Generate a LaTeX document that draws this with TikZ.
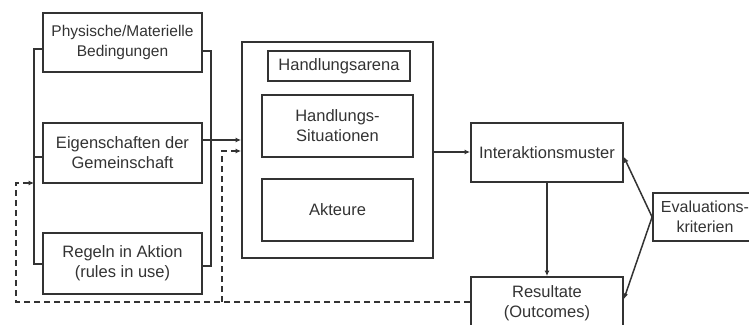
\documentclass[tikz,border=0pt]{standalone}
\usepackage{fontspec}
\setmainfont{Liberation Sans}
\usetikzlibrary{arrows.meta,calc}
\begin{document}
\begin{tikzpicture}[x=1pt,y=-1pt,
  box/.style={draw=black!80, line width=1.8pt, rectangle, inner sep=0pt, align=center,
    text=black!80, font=\fontsize{16.5}{20}\selectfont},
  conn/.style={draw=black!80, line width=1.5pt},
  arr/.style={conn, -{Latex[length=5.5pt,width=5pt]}},
  feedback/.style={draw=black!80, line width=1.9pt, dash pattern=on 6pt off 4pt,
    -{Latex[length=5.5pt,width=5pt]}}]
\useasboundingbox (0,0) rectangle (749,324);
\clip (0,0) rectangle (749,324);

% exogenous variables
\node[box, minimum width=159, minimum height=59, font=\fontsize{15.5}{20}\selectfont]
  (phys) at (122.5,42.5) {Physische/Materielle\\Bedingungen};
\node[box, minimum width=159, minimum height=60] (gem) at (122.5,153) {Eigenschaften der\\Gemeinschaft};
\node[box, minimum width=159, minimum height=61] (regeln) at (122.5,263.5) {Regeln in Aktion\\(rules in use)};

% action arena
\node[box, minimum width=191, minimum height=216] (arena) at (337.5,150) {};
\node[box, minimum width=142, minimum height=30] (harena) at (339,66) {Handlungsarena};
\node[box, minimum width=151, minimum height=62] (sit) at (337.5,126) {Handlungs-\\Situationen};
\node[box, minimum width=151, minimum height=62] (akt) at (337.5,210) {Akteure};

% outcomes
\node[box, minimum width=152, minimum height=59] (inter) at (547,152.5) {Interaktionsmuster};
\node[box, minimum width=152, minimum height=52] (res) at (547,303) {Resultate\\(Outcomes)};
\node[box, minimum width=104, minimum height=48, font=\fontsize{16}{20}\selectfont]
  (eval) at (705,217) {Evaluations-\\kriterien};

% bracket collecting the exogenous variables (left)
\draw[conn] ([yshift=-6.5]phys.west) -- ++(-8,0) coordinate (lb)
  |- ([yshift=-0.5]regeln.west);
\coordinate (gs) at ([yshift=-4]gem.west);
\draw[conn] (gs) -- (gs -| lb);
% bracket (right)
\draw[conn] ([yshift=-8.5]phys.east) -- ++(8,0) coordinate (rb)
  |- ([yshift=-2.5]regeln.east);
\coordinate (ge) at ([yshift=13]gem.east);
\draw[arr] (ge) -- (ge -| arena.west);

% main flow
\coordinate (ae) at ([yshift=-2]arena.east);
\draw[arr] (ae) -- (ae -| inter.west);
\draw[arr] (inter.south) -- (res.north);
\draw[arr] (eval.west) -- ([yshift=-4.5]inter.east);
\draw[arr] (eval.west) -- ([yshift=4]res.east);

% feedback of outcomes
\coordinate (fb) at (222,302);
\coordinate (fl) at (16,302);
\coordinate (fh) at (0,183);
\draw[feedback] ([yshift=1]res.west) -- (fb) -- (fl) |- (lb |- fh);
\draw[feedback] (fb) |- ([yshift=-1]arena.west);
\end{tikzpicture}
\end{document}
